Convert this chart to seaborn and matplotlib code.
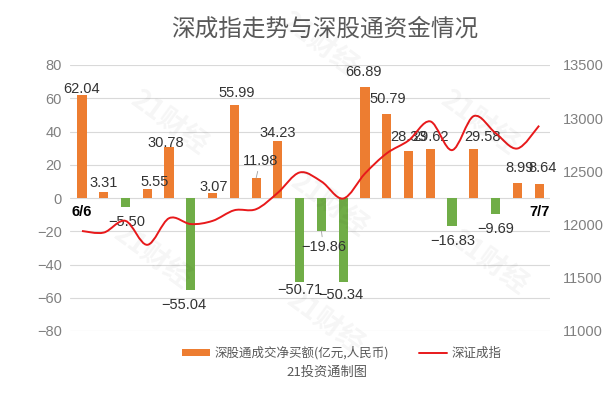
import numpy as np
import pandas as pd
import matplotlib
matplotlib.use('Agg')
import matplotlib.pyplot as plt
from matplotlib.path import Path
from matplotlib.patches import PathPatch, Patch
from matplotlib.lines import Line2D
import seaborn as sns

# Data
dates = ['6/6', '6/7', '6/8', '6/9', '6/10', '6/13', '6/14', '6/15', '6/16', '6/17', '6/20',
         '6/21', '6/22', '6/23', '6/24', '6/27', '6/28', '6/29', '6/30', '7/5', '7/6', '7/7']
net_buy = [62.04, 3.31, -5.50, 5.55, 30.78, -55.04, 3.07, 55.99, 11.98, 34.23, -50.71,
           -19.86, -50.34, 66.89, 50.79, 28.33, 29.62, -16.83, 29.58, -9.69, 8.99, 8.64]
szse_index = [11940, 11925, 12035, 11810, 12060, 12005, 12035, 12135, 12145, 12300, 12490,
              12405, 12245, 12480, 12670, 12790, 12970, 12700, 13020, 12860, 12715, 12930]
shown_ticks = ['6/6', '7/7']

# label nudges in pixels (dx, distance from bar end)
label_nudge = [(0, 6), (0, 9), (1, 15), (7, 7), (-3, 4), (-7, 15), (1, 6), (2, 12), (4, 17), (0, 8), (0, 8),
               (2, 16), (-2, 13), (-1, 15), (1, 15), (0, 14), (0, 12), (1, 15), (9, 12), (0, 15), (2, 15), (3, 16)]

sns.set_style('white')
plt.rcParams['font.family'] = ['Liberation Sans', 'Noto Sans CJK SC', 'DejaVu Sans']
plt.rcParams['axes.unicode_minus'] = True

orange = '#ED7D31'
green = '#70AD47'
red = '#E8191B'
grey_txt = '#595959'
cjk = ['Noto Sans CJK SC', 'DejaVu Sans']

df = pd.DataFrame({'date': dates, 'value': net_buy})
df['sign'] = np.where(df['value'] >= 0, 'pos', 'neg')

fig = plt.figure(figsize=(6.11, 3.98), dpi=100)
ax = fig.add_axes([70 / 611, 1 - 331 / 398, 480 / 611, 266 / 398])

sns.barplot(data=df, x='date', y='value', hue='sign', order=dates,
            palette={'pos': orange, 'neg': green}, dodge=False, width=0.42,
            saturation=1, linewidth=0, legend=False, ax=ax, zorder=2)

ax.set_xlim(-0.55, len(dates) - 0.5)
ax.set_ylim(-80, 80)
ax.set_yticks(range(-80, 81, 20))
ax.grid(axis='y', color='#d9d9d9', lw=0.8, zorder=0)
ax.set_axisbelow(True)
for s in ax.spines.values():
    s.set_visible(False)
ax.spines['bottom'].set_position(('data', 0))
ax.set_xlabel('')
ax.set_ylabel('')
ax.tick_params(axis='y', length=0, pad=6, labelsize=10.5, labelcolor='#808080')
ax.set_xticks([dates.index(d) for d in shown_ticks])
ax.set_xticklabels(shown_ticks, fontweight='bold', fontsize=10.5, color='black')
ax.tick_params(axis='x', length=0, pad=5)

# data labels
for i, (v, (dx, dy)) in enumerate(zip(net_buy, label_nudge)):
    sgn = 1 if v >= 0 else -1
    arrow = None
    if dates[i] in ('6/16', '6/21'):
        arrow = dict(arrowstyle='-', color='#a0a0a0', lw=0.6, shrinkA=5, shrinkB=0)
    ax.annotate(f'{v:.2f}'.replace('-', '\u2212'), xy=(i, v), xytext=(dx * 0.72, sgn * dy * 0.72),
                textcoords='offset points', ha='center', va='center',
                fontsize=10.5, color='#333333', arrowprops=arrow, zorder=3)

# smoothed index line on secondary axis
ax2 = ax.twinx()
ax2.set_ylim(11000, 13500)
ax2.set_yticks(range(11000, 13501, 500))
for s in ax2.spines.values():
    s.set_visible(False)
ax2.tick_params(axis='y', length=0, pad=9, labelsize=10.5, labelcolor='#808080')
ax2.grid(False)

pts = np.column_stack([np.arange(len(szse_index)), szse_index]).astype(float)
ext = np.vstack([pts[0], pts, pts[-1]])
verts = [pts[0]]
codes = [Path.MOVETO]
for k in range(len(pts) - 1):
    p0, p1, p2, p3 = ext[k], ext[k + 1], ext[k + 2], ext[k + 3]
    verts += [p1 + (p2 - p0) / 6, p2 - (p3 - p1) / 6, p2]
    codes += [Path.CURVE4] * 3
ax2.add_patch(PathPatch(Path(verts, codes), fill=False, edgecolor=red, lw=1.4, zorder=4))

# title, legend, source
fig.text(0.532, 0.928, '深成指走势与深股通资金情况', ha='center', va='center',
         fontsize=17, color=grey_txt, family=cjk)
handles = [Patch(facecolor=orange, edgecolor='none'), Line2D([], [], color=red, lw=1.4)]
fig.legend(handles, ['深股通成交净买额(亿元,人民币)', '深证成指'], loc='center',
           bbox_to_anchor=(0.56, 1 - 353 / 398), ncol=2, frameon=False,
           prop={'family': cjk, 'size': 9},
           labelcolor=grey_txt, handlelength=2.2, handleheight=0.5, handletextpad=0.4,
           columnspacing=2.4)
fig.text(0.535, 1 - 372 / 398, '21投资通制图', ha='center', va='center', fontsize=9.5,
         color=grey_txt, family=cjk)

# watermark
for (wx, wy) in [(320, 45), (170, 123), (480, 123), (330, 205), (153, 257), (490, 263), (326, 323)]:
    fig.text(wx / 611, 1 - wy / 398, '21财经', ha='center', va='center', rotation=-36,
             fontsize=20, fontweight='bold', color='black', alpha=0.04, zorder=10, family=cjk)

fig.savefig('out.png', dpi=100)
